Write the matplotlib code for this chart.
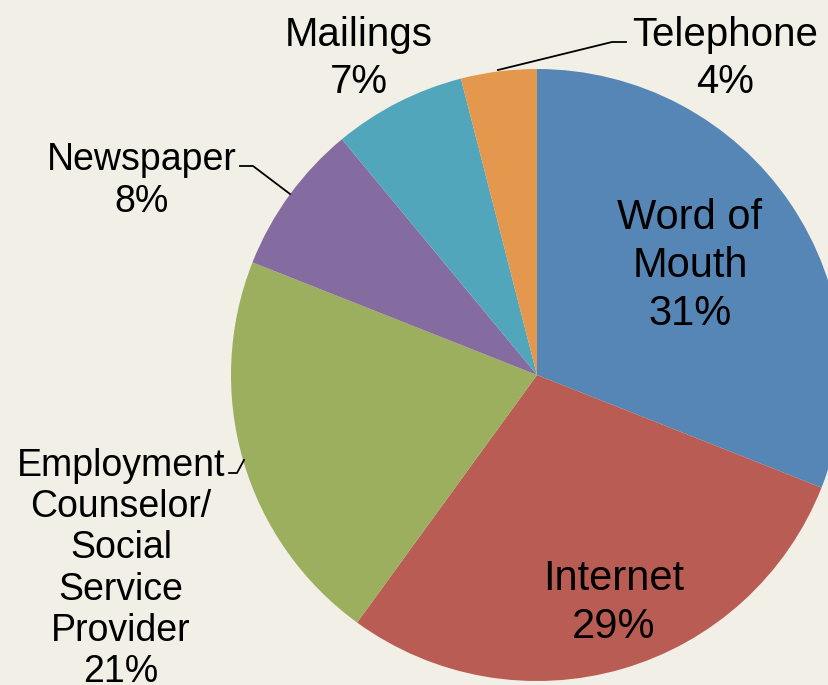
import matplotlib
matplotlib.use("Agg")
import matplotlib.pyplot as plt

categories = ["Word of\nMouth", "Internet", "Employment\nCounselor/\nSocial\nService\nProvider",
              "Newspaper", "Mailings", "Telephone"]
values = [31, 29, 21, 8, 7, 4]
colors = ["#5686B6", "#B85C54", "#9BAF5F", "#846CA0", "#52A6BB", "#E3984E"]

W, H = 829, 685
BG = "#F2EFE7"
plt.rcParams["font.family"] = ["Liberation Sans", "DejaVu Sans"]

fig = plt.figure(figsize=(W / 100, H / 100), dpi=100, facecolor=BG)
ax = fig.add_axes([0, 0, 1, 1])
ax.set_facecolor(BG)

def Y(y):
    return H - y

ax.pie(values, colors=colors, startangle=90, counterclock=False,
       center=(537, Y(375)), radius=306, frame=True,
       wedgeprops=dict(linewidth=0))
ax.set_xlim(0, W)
ax.set_ylim(0, H)
ax.set_aspect("equal")
ax.axis("off")

labels = [f"{c}\n{v}%" for c, v in zip(categories, values)]
# label placement (x, y image px, fontsize, linespacing)
pos = [(690, 266, 30, 1.26), (614, 603, 30, 1.26), (121, 569, 27, 1.19),
       (142, 181, 27, 1.2), (359, 58, 29, 1.3), (725, 58, 29, 1.3)]
for lab, (x, y, fs, ls) in zip(labels, pos):
    ax.text(x, Y(y), lab, ha="center", va="center", fontsize=fs,
            color="black", linespacing=ls)

# leader lines
lw = 1.3
ax.plot([498, 612, 626], [Y(70), Y(42), Y(42)], color="black", lw=lw)
ax.plot([240, 253, 290], [Y(166), Y(166), Y(194)], color="black", lw=lw)
ax.plot([229, 237, 244], [Y(473), Y(473), Y(460)], color="black", lw=lw)

fig.savefig("out.png", dpi=100, facecolor=BG)
